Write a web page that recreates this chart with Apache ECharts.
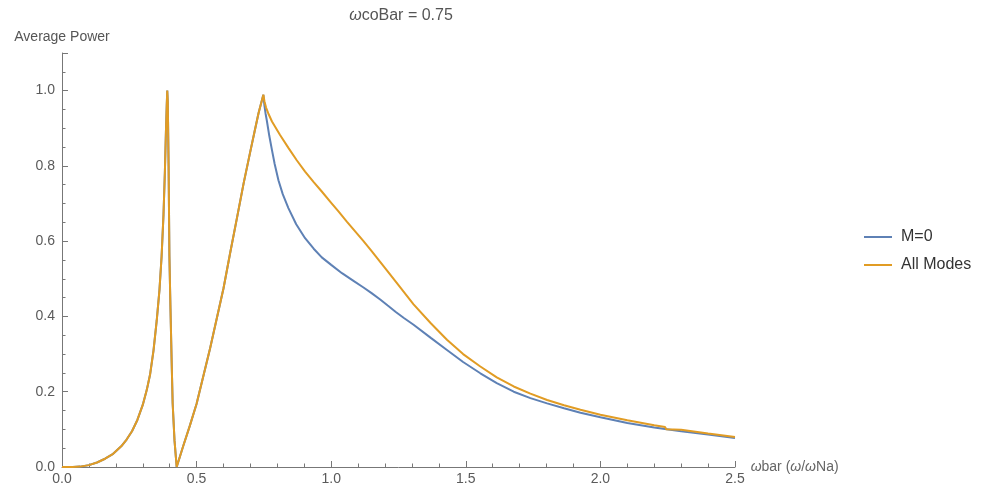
<!DOCTYPE html>
<html>
<head>
<meta charset="utf-8">
<script src="https://cdn.jsdelivr.net/npm/echarts@6/dist/echarts.min.js"></script>
<style>
html,body{margin:0;padding:0;background:#fff;}
#chart{width:988px;height:493px;}
</style>
</head>
<body>
<div id="chart"></div>
<script>
// Shared rising part (both curves coincide up to the cutoff at 0.75)
var riseX = [0, 0.04, 0.067, 0.1, 0.13, 0.16, 0.19, 0.22, 0.24, 0.26, 0.28, 0.3, 0.315, 0.327, 0.34, 0.352, 0.362, 0.37, 0.377, 0.382, 0.386, 0.389, 0.391, 0.393, 0.396, 0.399, 0.403, 0.407, 0.411, 0.418, 0.426, 0.45, 0.475, 0.5, 0.55, 0.6, 0.625, 0.65, 0.675, 0.7, 0.715, 0.73, 0.748];
var riseY = [0, 0, 0.001, 0.005, 0.012, 0.022, 0.035, 0.055, 0.073, 0.095, 0.125, 0.165, 0.205, 0.245, 0.31, 0.39, 0.47, 0.56, 0.67, 0.78, 0.89, 0.96, 1.0, 0.97, 0.8, 0.56, 0.42, 0.29, 0.17, 0.07, 0.0, 0.055, 0.11, 0.168, 0.315, 0.475, 0.57, 0.662, 0.755, 0.84, 0.89, 0.94, 0.989];
// M=0 tail
var m0X = [0.752, 0.756, 0.761, 0.77, 0.78, 0.79, 0.804, 0.82, 0.841, 0.87, 0.903, 0.935, 0.965, 1.0, 1.04, 1.08, 1.12, 1.15, 1.182, 1.21, 1.24, 1.27, 1.306, 1.37, 1.43, 1.49, 1.554, 1.615, 1.678, 1.74, 1.802, 1.865, 1.926, 2.0, 2.1, 2.2, 2.3, 2.4, 2.5];
var m0Y = [0.96, 0.94, 0.92, 0.88, 0.842, 0.805, 0.762, 0.725, 0.688, 0.645, 0.608, 0.58, 0.557, 0.537, 0.515, 0.496, 0.477, 0.462, 0.445, 0.429, 0.412, 0.396, 0.378, 0.343, 0.311, 0.279, 0.249, 0.223, 0.2, 0.183, 0.169, 0.156, 0.144, 0.132, 0.117, 0.105, 0.095, 0.086, 0.077];
// All modes tail
var allX = [0.752, 0.758, 0.766, 0.78, 0.81, 0.841, 0.872, 0.903, 0.935, 0.965, 1.0, 1.027, 1.058, 1.089, 1.12, 1.151, 1.201, 1.25, 1.306, 1.37, 1.43, 1.49, 1.554, 1.615, 1.678, 1.74, 1.802, 1.865, 1.926, 2.0, 2.1, 2.2, 2.24, 2.245, 2.25, 2.3, 2.4, 2.5];
var allY = [0.972, 0.955, 0.94, 0.918, 0.882, 0.848, 0.815, 0.785, 0.757, 0.732, 0.702, 0.679, 0.652, 0.626, 0.6, 0.573, 0.528, 0.483, 0.432, 0.382, 0.338, 0.3, 0.267, 0.238, 0.214, 0.195, 0.178, 0.164, 0.152, 0.139, 0.124, 0.111, 0.106, 0.1, 0.105, 0.099, 0.089, 0.08];

var seriesNames = ['M=0', 'All Modes'];

function pairs(xs, ys) { var out = []; for (var i = 0; i < xs.length; i++) out.push([xs[i], ys[i]]); return out; }
var m0Data = pairs(riseX, riseY).concat(pairs(m0X, m0Y));
var allData = pairs(riseX, riseY).concat(pairs(allX, allY));

var axisGrey = '#777';
var labelGrey = '#5a5a5a';
var chart = echarts.init(document.getElementById('chart'));
chart.setOption({
  animation: false,
  backgroundColor: '#fff',
  textStyle: { fontFamily: 'Liberation Sans, Arial, sans-serif' },
  title: {
    text: '{w|ω}coBar = 0.75',
    left: 396, top: 3, textAlign: 'center',
    textStyle: { fontSize: 16, fontWeight: 'normal', color: '#555',
      rich: { w: { fontStyle: 'italic', fontSize: 16, color: '#555' } } }
  },
  legend: {
    orient: 'vertical', left: 859, top: 224, itemGap: 12,
    itemWidth: 28, itemHeight: 2, icon: 'rect',
    textStyle: { fontSize: 16, color: '#333', padding: [0, 0, 0, 4] },
    data: seriesNames
  },
  grid: { left: 62, right: 253, top: 53, bottom: 26, containLabel: false },
  xAxis: {
    type: 'value', min: 0, max: 2.5, interval: 0.5,
    name: '{w|ω}bar ({w|ω}/{w|ω}Na)', nameLocation: 'end', nameGap: 10,
    nameTextStyle: { fontSize: 14, color: '#666', align: 'left', verticalAlign: 'middle',
      rich: { w: { fontStyle: 'italic', fontSize: 14, color: '#666' } } },
    axisLine: { lineStyle: { color: axisGrey, width: 1 } },
    axisTick: { inside: true, length: 6, lineStyle: { color: axisGrey } },
    minorTick: { show: true, splitNumber: 5, length: 3.5, lineStyle: { color: axisGrey } },
    splitLine: { show: false },
    axisLabel: { color: labelGrey, fontSize: 14, margin: 5, formatter: function (v) { return v.toFixed(1); } }
  },
  yAxis: [{
    type: 'value', min: 0, max: 1.1, interval: 0.05,
    name: 'Average Power', nameLocation: 'end', nameGap: 9,
    nameTextStyle: { fontSize: 14, color: '#555', align: 'center' },
    axisLine: { show: true, lineStyle: { color: axisGrey, width: 1 } },
    axisTick: { inside: true, length: 3.5, lineStyle: { color: axisGrey } },
    splitLine: { show: false },
    axisLabel: { color: labelGrey, fontSize: 14, margin: 7,
      formatter: function (v) { var r = v / 0.2; return Math.abs(r - Math.round(r)) < 1e-6 ? v.toFixed(1) : ''; } }
  }, {
    type: 'value', min: 0, max: 1.1, interval: 0.2, position: 'left',
    axisLine: { show: false },
    axisTick: { inside: true, length: 6, lineStyle: { color: axisGrey } },
    splitLine: { show: false },
    axisLabel: { show: false }
  }],
  series: [{
    name: seriesNames[0], type: 'line', data: m0Data, showSymbol: false, symbol: 'none',
    smooth: false, lineStyle: { color: '#5E81B5', width: 2 }, itemStyle: { color: '#5E81B5' }
  }, {
    name: seriesNames[1], type: 'line', data: allData, showSymbol: false, symbol: 'none',
    smooth: false, lineStyle: { color: '#E19C24', width: 2 }, itemStyle: { color: '#E19C24' }
  }]
});
</script>
</body>
</html>
